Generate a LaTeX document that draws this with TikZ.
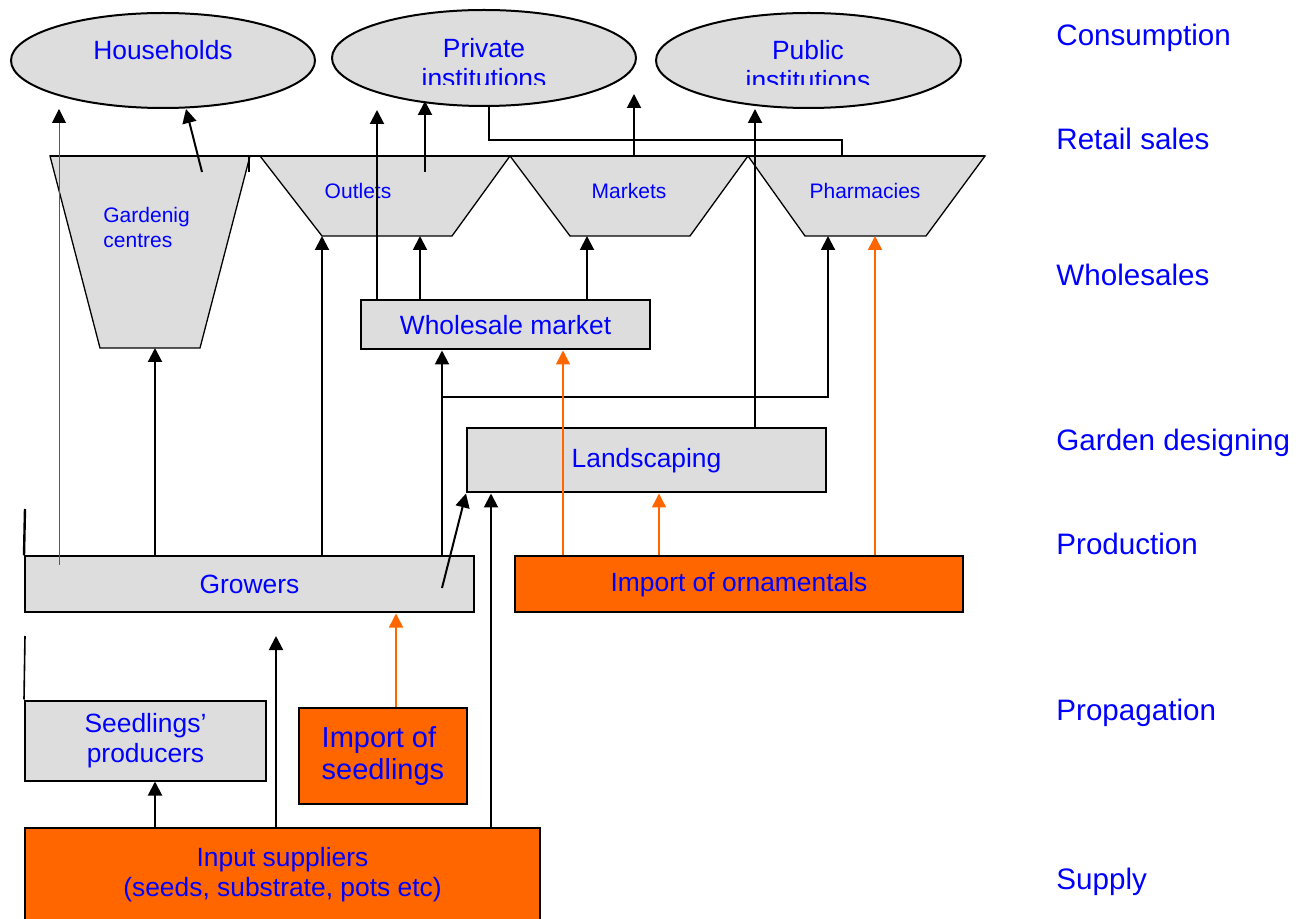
\documentclass[tikz,border=0pt]{standalone}
\usepackage{fontspec}
\setmainfont{Liberation Sans}
\usetikzlibrary{shapes.geometric,arrows.meta}
\definecolor{boxgrey}{HTML}{DDDDDD}
\definecolor{imporange}{HTML}{FF6600}
\definecolor{txtblue}{HTML}{0000FF}
\tikzset{
  flowbox/.style={draw,line width=1pt,fill=boxgrey,inner sep=0pt,text=txtblue,
    font=\fontsize{13.2}{15}\selectfont,align=center},
  importbox/.style={flowbox,fill=imporange},
  consumer/.style={ellipse,draw,line width=1pt,fill=boxgrey,inner sep=0pt,
    minimum width=152pt},
  ctext/.style={text=txtblue,font=\fontsize{13.2}{15}\selectfont,align=center},
  outlet/.style={draw,line width=0.65pt,fill=boxgrey},
  otext/.style={text=txtblue,font=\fontsize{10.5}{12.5}\selectfont},
  level/.style={anchor=west,text=txtblue,font=\fontsize{14.8}{16}\selectfont,inner sep=0pt},
  flow/.style={->,line width=1pt},
  impflow/.style={->,line width=0.75pt,draw=imporange,fill=imporange},
}
\begin{document}
\begin{tikzpicture}[x=0.5pt,y=-0.5pt,>={Triangle[length=7pt,width=7pt]}]
\useasboundingbox (0,0) rectangle (1302,919);
\clip (0,0) rectangle (1302,919);

% consumers
\node[consumer,minimum height=47.5pt] (hh) at (163,60.5) {};
\node[ctext] (hhtxt) at (163,50) {Households};
\node[consumer,minimum height=48pt] (priv) at (484,58) {};
\node[consumer,minimum width=152.5pt,minimum height=47.5pt] (pub) at (808.5,60.5) {};
\begin{scope}
\clip (320,0) rectangle (980,85);
\node[ctext] (privtxt) at (484,63) {Private\\institutions};
\node[ctext] (pubtxt) at (808,65) {Public\\institutions};
\end{scope}

% retail sales
\path[outlet] (50,156) -- (250,156) -- (200,348) -- (100,348) -- cycle;
\path[outlet] (260,156) -- (510,156) -- (452,236) -- (322,236) -- cycle;
\path[outlet] (510,156) -- (748,156) -- (690,236) -- (570,236) -- cycle;
\path[outlet] (748,156) -- (985,156) -- (926,236) -- (805,236) -- cycle;
\draw[line width=0.65pt] (50,156) -- (985,156);
\draw[line width=0.65pt] (249,156) -- (249,172);
\node[otext,anchor=west,align=left,inner sep=0pt] (gc) at (103,227) {Gardenig\\centres};
\node[otext] (outl) at (358,191) {Outlets};
\node[otext] (mkt) at (629,191) {Markets};
\node[otext] (pharm) at (865,191) {Pharmacies};
\coordinate (gcb) at (150,348);
\coordinate (outb) at (387,236);
\coordinate (mktb) at (630,236);
\coordinate (phb) at (865,236);
\coordinate (rowtop) at (500,156);

% boxes
\node[flowbox,minimum width=144.5pt,minimum height=24.5pt] (whole) at (505.5,325) {Wholesale market};
\node[flowbox,minimum width=179.5pt,minimum height=32pt] (land) at (646.5,460.5) {Landscaping};
\node[flowbox,minimum width=224.5pt,minimum height=28pt] (grow) at (249.5,584.5) {Growers};
\node[importbox,minimum width=224pt,minimum height=28pt] (orn) at (739,584.5) {Import of ornamentals};
\node[flowbox,minimum width=120.5pt,minimum height=40pt] (seedp) at (145.5,740.5) {Seedlings’\\producers};
\node[importbox,minimum width=84pt,minimum height=48pt,align=left,
  font=\fontsize{14.5}{16}\selectfont] (impseed) at (383,756) {Import of\\seedlings};
\node[flowbox,fill=imporange,minimum width=257.5pt,minimum height=47pt] (input) at (282.5,875) {Input suppliers\\(seeds, substrate, pots etc)};

% stray edges
\draw[line width=1.2pt] (25,509) -- (grow.north west);
\draw[line width=0.8pt] (25,636) -- (seedp.north west);

% flows
\draw[->,line width=0.5pt,draw=black!65,>={Triangle[length=7pt,width=7pt,color=black]}] (59,565) -- (hh.south -| 59,0);
\draw[flow] (202,172) -- (hh.south -| 186,0);
\draw[flow] (whole.north -| 377,0) -- (377,110);
\draw[flow] (425,172) -- (425,101);
\draw[line width=1pt] (489,105) |- (842,140) -- (rowtop -| 842,0);
\draw[flow] (rowtop -| 634,0) -- (634,94);
\draw[flow] (land.north -| 755,0) -- (pub.south -| 755,0);
\draw[flow] (grow.north -| 155,0) -- (gcb -| 155,0);
\draw[flow] (grow.north -| 322,0) -- (outb -| 322,0);
\draw[flow] (whole.north -| 420,0) -- (outb -| 420,0);
\draw[flow] (whole.north -| 587,0) -- (mktb -| 587,0);
\draw[flow] (grow.north -| 442,0) -- (whole.south -| 442,0);
\draw[flow] (442,397) -| (phb -| 828,0);
\draw[flow] (442,588) -- (land.south west);
\draw[flow] (input.north -| 491,0) -- (land.south -| 491,0);
\draw[flow] (input.north -| 155,0) -- (seedp.south -| 155,0);
\draw[flow] (input.north -| 276,0) -- (276,636);

% imports
\draw[impflow] (orn.north -| 563,0) -- (whole.south -| 563,0);
\draw[impflow] (orn.north -| 659,0) -- (land.south -| 659,0);
\draw[impflow] (orn.north -| 875,0) -- (phb -| 875,0);
\draw[impflow] (impseed.north -| 396,0) -- (grow.south -| 396,0);

% levels
\node[level] (consum) at (1056,38) {Consumption};
\node[level] (retail) at (1056,139) {Retail sales};
\node[level] (wsale) at (1056,275) {Wholesales};
\node[level] (design) at (1056,443) {Garden designing};
\node[level] (prod) at (1056,544) {Production};
\node[level] (prop) at (1056,713) {Propagation};
\node[level] (supply) at (1056,882) {Supply};
\end{tikzpicture}
\end{document}
